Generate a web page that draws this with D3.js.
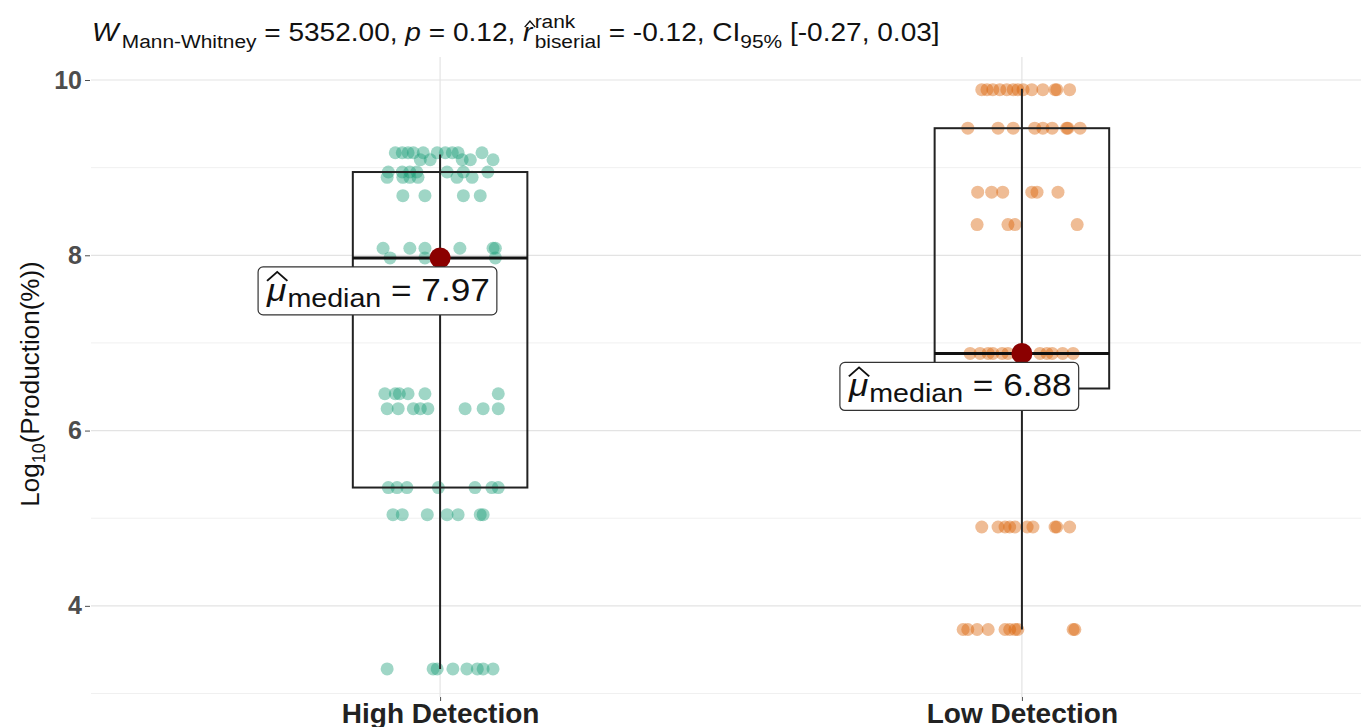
<!DOCTYPE html>
<meta charset="utf-8">
<style>
  body { margin: 0; background: #fff; }
  svg { font-family: "Liberation Sans", Arial, sans-serif; }
</style>
<body>
<svg width="1361" height="727"></svg>
<script src="https://d3js.org/d3.v7.min.js"></script>
<script>

// ---- data ----
var categories = ["High Detection", "Low Detection"];
var colors = ["#1B9E77", "#D95F02"];

// box stats per group
var whiskerLow  = [3.28, 3.73];
var q1          = [5.35, 6.48];
var medians     = [7.97, 6.88];
var q3          = [8.95, 9.45];
var whiskerHigh = [9.15, 9.90];
var medianLabels = ["7.97", "6.88"];

// points: [value, jitter (category units)]
var highPoints = [
  [9.17,-0.077],[9.17,-0.065],[9.17,-0.055],[9.17,-0.046],[9.17,-0.029],[9.17,-0.005],[9.17,0.009],[9.17,0.021],[9.17,0.031],[9.17,0.072],
  [9.09,-0.034],[9.09,-0.017],[9.09,0.038],[9.09,0.052],[9.09,0.091],
  [8.95,-0.089],[8.95,-0.065],[8.95,-0.052],[8.95,-0.040],[8.95,0.012],[8.95,0.040],[8.95,0.082],
  [8.89,-0.091],[8.89,-0.064],[8.89,-0.052],[8.89,-0.038],[8.89,0.029],[8.89,0.055],
  [8.68,-0.064],[8.68,-0.026],[8.68,0.040],[8.68,0.069],
  [8.08,-0.098],[8.08,-0.052],[8.08,-0.026],[8.08,0.034],[8.08,0.091],[8.08,0.095],
  [7.97,-0.086],[7.97,-0.026],[7.97,0.095],
  [6.42,-0.095],[6.42,-0.077],[6.42,-0.070],[6.42,-0.055],[6.42,-0.026],[6.42,0.100],
  [6.25,-0.091],[6.25,-0.072],[6.25,-0.046],[6.25,-0.034],[6.25,-0.021],[6.25,0.043],[6.25,0.074],[6.25,0.100],
  [5.35,-0.089],[5.35,-0.074],[5.35,-0.057],[5.35,-0.003],[5.35,0.060],[5.35,0.089],[5.35,0.100],
  [5.04,-0.081],[5.04,-0.065],[5.04,-0.022],[5.04,0.012],[5.04,0.031],[5.04,0.069],[5.04,0.074],
  [3.28,-0.091],[3.28,-0.012],[3.28,-0.005],[3.28,0.022],[3.28,0.046],[3.28,0.064],[3.28,0.074],[3.28,0.091]
];
var lowPoints = [
  [9.89,-0.069],[9.89,-0.060],[9.89,-0.050],[9.89,-0.038],[9.89,-0.026],[9.89,-0.015],[9.89,-0.007],[9.89,0.002],[9.89,0.017],[9.89,0.036],[9.89,0.057],[9.89,0.060],[9.89,0.082],
  [9.45,-0.093],[9.45,-0.041],[9.45,-0.015],[9.45,0.022],[9.45,0.036],[9.45,0.052],[9.45,0.077],[9.45,0.079],[9.45,0.100],
  [8.72,-0.076],[8.72,-0.052],[8.72,-0.033],[8.72,0.017],[8.72,0.026],[8.72,0.062],
  [8.35,-0.077],[8.35,-0.024],[8.35,-0.012],[8.35,0.095],
  [6.88,-0.089],[6.88,-0.072],[6.88,-0.058],[6.88,-0.050],[6.88,-0.034],[6.88,-0.024],[6.88,0.031],[6.88,0.043],[6.88,0.052],[6.88,0.070],[6.88,0.088],
  [4.90,-0.069],[4.90,-0.041],[4.90,-0.029],[4.90,-0.021],[4.90,-0.012],[4.90,0.009],[4.90,0.019],[4.90,0.057],[4.90,0.060],[4.90,0.082],
  [3.73,-0.101],[3.73,-0.093],[3.73,-0.077],[3.73,-0.058],[3.73,-0.029],[3.73,-0.021],[3.73,-0.012],[3.73,-0.007],[3.73,0.088],[3.73,0.091]
];
var groups = [highPoints, lowPoints];

var yTicks = [4, 6, 8, 10];
var yMinor = [3, 5, 7, 9];

// ---- layout ----
var svg = d3.select("svg");
var panel = {left: 91, right: 1361, top: 57, bottom: 697};

var x = d3.scaleLinear().domain([0.4, 2.6]).range([91, 1371]);
var y = d3.scaleLinear().domain([3, 10]).range([693.5, 80]);
var catX = function(i) { return x(i + 1); };

// grid
var grid = svg.append("g");
grid.selectAll(".minor").data(yMinor).enter().append("line")
    .attr("x1", panel.left).attr("x2", panel.right)
    .attr("y1", function(d) { return y(d); }).attr("y2", function(d) { return y(d); })
    .attr("stroke", "#f0f0f0").attr("stroke-width", 1);
grid.selectAll(".major").data(yTicks).enter().append("line")
    .attr("x1", panel.left).attr("x2", panel.right)
    .attr("y1", function(d) { return y(d); }).attr("y2", function(d) { return y(d); })
    .attr("stroke", "#e3e3e3").attr("stroke-width", 1.2);
grid.selectAll(".vert").data(categories).enter().append("line")
    .attr("x1", function(d, i) { return catX(i); }).attr("x2", function(d, i) { return catX(i); })
    .attr("y1", panel.top).attr("y2", panel.bottom)
    .attr("stroke", "#e3e3e3").attr("stroke-width", 1.2);

// axes
var yAxis = svg.append("g")
    .attr("transform", "translate(" + (panel.left - 1) + ",0)")
    .call(d3.axisLeft(y).tickValues(yTicks).tickFormat(d3.format("d")).tickSize(5).tickPadding(3));
yAxis.select(".domain").remove();
yAxis.selectAll(".tick line").attr("stroke", "#4d4d4d");
yAxis.selectAll(".tick text")
    .attr("fill", "#4d4d4d").style("font-size", "25px").style("font-weight", "bold")
    .style("font-family", "Liberation Sans, Arial, sans-serif");

var xAxis = svg.append("g")
    .attr("transform", "translate(0," + panel.bottom + ")")
    .call(d3.axisBottom(d3.scaleOrdinal().domain(categories).range(categories.map(function(d, i) { return catX(i); })))
      .tickSize(4).tickPadding(2));
xAxis.select(".domain").remove();
xAxis.selectAll(".tick line").attr("stroke", "#4d4d4d");
xAxis.selectAll(".tick text")
    .attr("fill", "#222").style("font-size", "28px").style("font-weight", "bold")
    .style("font-family", "Liberation Sans, Arial, sans-serif");

// y axis title
var yTitle = svg.append("text")
    .attr("transform", "translate(39,384) rotate(-90)")
    .attr("text-anchor", "middle")
    .style("font-size", "26px").attr("fill", "#111");
yTitle.append("tspan").text("Log");
yTitle.append("tspan").attr("dy", 6).style("font-size", "18px").text("10");
yTitle.append("tspan").attr("dy", -6).text("(Production(%))");

// points
groups.forEach(function(pts, gi) {
  svg.append("g").selectAll("circle").data(pts).enter().append("circle")
      .attr("cx", function(d) { return x(gi + 1 + d[1]); })
      .attr("cy", function(d) { return y(d[0]); })
      .attr("r", 6.5)
      .attr("fill", colors[gi]).attr("fill-opacity", 0.42);
});

// boxes
var boxHalf = 0.15;
categories.forEach(function(c, i) {
  var g = svg.append("g");
  g.append("line")
      .attr("x1", catX(i)).attr("x2", catX(i))
      .attr("y1", y(whiskerHigh[i])).attr("y2", y(whiskerLow[i]))
      .attr("stroke", "#222").attr("stroke-width", 2);
  g.append("rect")
      .attr("x", x(i + 1 - boxHalf)).attr("width", x(i + 1 + boxHalf) - x(i + 1 - boxHalf))
      .attr("y", y(q3[i])).attr("height", y(q1[i]) - y(q3[i]))
      .attr("fill", "none").attr("stroke", "#222").attr("stroke-width", 2);
  g.append("line")
      .attr("x1", x(i + 1 - boxHalf)).attr("x2", x(i + 1 + boxHalf))
      .attr("y1", y(medians[i])).attr("y2", y(medians[i]))
      .attr("stroke", "#111").attr("stroke-width", 3);
  g.append("circle")
      .attr("cx", catX(i)).attr("cy", y(medians[i])).attr("r", 10.5)
      .attr("fill", "#8B0000");
});

// helper: draw a "wide hat" above a bbox
function hat(g, bb, h, sw) {
  var cx = bb.x + bb.width / 2 + bb.width * 0.05;
  var w = bb.width * 0.5;
  g.append("path")
      .attr("d", "M" + (cx - w) + "," + (bb.y + h) + "L" + cx + "," + bb.y + "L" + (cx + w) + "," + (bb.y + h))
      .attr("fill", "none").attr("stroke", "#111").attr("stroke-width", sw);
}

// median labels (text slightly stretched horizontally, like the source)
var labelStretch = 1.1;
categories.forEach(function(c, i) {
  var left = catX(i) - 182, top = y(medians[i]) + 9;
  var g = svg.append("g").attr("transform", "translate(" + left + "," + top + ")");
  var rect = g.append("rect").attr("x", 0).attr("y", 0)
      .attr("rx", 5).attr("fill", "#fff").attr("stroke", "#333").attr("stroke-width", 1.2);
  var tg = g.append("g").attr("transform", "translate(9,0) scale(" + labelStretch + ",1)");
  var cursor = 0;
  var mu = tg.append("text").attr("x", cursor).attr("y", 34)
      .style("font-size", "32px").style("font-style", "italic").attr("fill", "#111").text("\u03bc");
  var mb = mu.node().getBBox();
  hat(tg, {x: mb.x, y: 5, width: mb.width}, 9, 1.8);
  cursor += mu.node().getComputedTextLength() + 1;
  var sub = tg.append("text").attr("x", cursor).attr("y", 40)
      .style("font-size", "26px").attr("fill", "#111").text("median");
  cursor += sub.node().getComputedTextLength();
  var rest = tg.append("text").attr("x", cursor).attr("y", 34)
      .style("font-size", "32px").attr("fill", "#111").attr("xml:space", "preserve")
      .text(" = " + medianLabels[i]);
  cursor += rest.node().getComputedTextLength();
  rect.attr("width", cursor * labelStretch + 16).attr("height", 48);
});

// subtitle with stats
var title = svg.append("g").attr("transform", "translate(92,0) scale(1.1,1)");
var tx = 0, base = 41;
function piece(txt, size, dy, italic) {
  var t = title.append("text").attr("x", tx).attr("y", base + dy)
      .attr("xml:space", "preserve")
      .style("font-size", size + "px").style("font-style", italic ? "italic" : "normal")
      .attr("fill", "#111").text(txt);
  return t;
}
function adv(t) { tx += t.node().getComputedTextLength(); }
adv(piece("W", 25.5, 0, true));
tx += 3;
adv(piece("Mann-Whitney", 19, 7));
adv(piece(" = 5352.00, ", 25.5, 0));
adv(piece("p", 25.5, 0, true));
adv(piece(" = 0.12, ", 25.5, 0));
var r = piece("r", 25.5, 0, true);
var rb = r.node().getBBox();
hat(title, {x: rb.x + 1, y: rb.y + 3, width: rb.width}, 6, 1.3);
adv(r);
tx += 2;
var sup = piece("rank", 19, -13);
var sb = piece("biserial", 19, 7);
tx += Math.max(sup.node().getComputedTextLength(), sb.node().getComputedTextLength());
adv(piece(" = -0.12, CI", 25.5, 0));
adv(piece("95%", 19, 7));
adv(piece(" [-0.27, 0.03]", 25.5, 0));

</script>
</body>
